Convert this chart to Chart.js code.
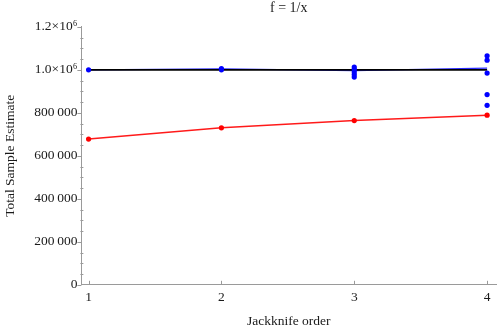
<!DOCTYPE html>
<html>
<head>
<meta charset="utf-8">
<script src="https://cdn.jsdelivr.net/npm/chart.js@4"></script>
<style>
  body { margin: 0; background: #fff; }
  #wrap { width: 500px; height: 328px; }
</style>
</head>
<body>
<div id="wrap"><canvas id="chart"></canvas></div>
<script>
const orders = [1, 2, 3, 4];
const redValues = [678000, 730000, 764000, 789000];
const blackValues = [1000000, 1000000, 1000000, 1000000];
const blueLineValues = [1000000, 1004000, 996000, 1008000];
const blueSamples = [
    [1000000],
    [1006000, 1000000],
    [1013000, 1003000, 990000, 978000, 966000],
    [1065000, 1045000, 985000, 885000, 835000]
];
const yTickValues = [0, 200000, 400000, 600000, 800000, 1000000, 1200000];
const yTickLabels = ['0', '200\u2009000', '400\u2009000', '600\u2009000', '800\u2009000', '1.0\u00d710\u2076', '1.2\u00d710\u2076'];
const xTickValues = [1, 2, 3, 4];

const axisGray = '#9a9a9a';
const textColor = '#1a1a1a';
const serif = "'Liberation Serif', 'DejaVu Serif', serif";

const bluePoints = [];
blueSamples.forEach((vals, i) => {
    vals.forEach(v => bluePoints.push({ x: orders[i], y: v }));
});

// ticks drawn by hand: x ticks point inward, y has minor ticks
const tickPlugin = {
    id: 'ticks',
    afterDraw(chart) {
        const ctx = chart.ctx;
        const xs = chart.scales.x;
        const ys = chart.scales.y;
        const area = chart.chartArea;
        ctx.save();
        ctx.strokeStyle = axisGray;
        ctx.lineWidth = 1;
        ctx.beginPath();
        xTickValues.forEach(v => {
            const px = Math.round(xs.getPixelForValue(v)) + 0.5;
            ctx.moveTo(px, area.bottom);
            ctx.lineTo(px, area.bottom - 4);
        });
        for (let v = 0; v <= 1200000; v += 50000) {
            const py = Math.round(ys.getPixelForValue(v)) + 0.5;
            if (v % 200000 === 0) {
                ctx.moveTo(area.left - 4, py);
                ctx.lineTo(area.left, py);
            } else {
                ctx.moveTo(area.left - 1, py);
                ctx.lineTo(area.left + 2, py);
            }
        }
        ctx.stroke();
        ctx.restore();
    }
};

const ctx = document.getElementById('chart').getContext('2d');
const chart = new Chart(ctx, {
    type: 'scatter',
    data: {
        datasets: [
            {
                label: 'black',
                type: 'line',
                data: orders.map((x, i) => ({ x: x, y: blackValues[i] })),
                borderColor: '#000',
                borderWidth: 1.8,
                pointRadius: 0,
                order: 1
            },
            {
                label: 'blue line',
                type: 'line',
                data: orders.map((x, i) => ({ x: x, y: blueLineValues[i] })),
                borderColor: '#2a2aff',
                borderWidth: 1.2,
                pointRadius: 0,
                order: 2
            },
            {
                label: 'blue points',
                data: bluePoints,
                backgroundColor: '#0000ff',
                borderColor: '#0000ff',
                pointRadius: 2.6,
                borderWidth: 0,
                clip: false,
                order: 0
            },
            {
                label: 'red',
                type: 'line',
                data: orders.map((x, i) => ({ x: x, y: redValues[i] })),
                borderColor: '#ff1a1a',
                backgroundColor: '#ff0000',
                borderWidth: 1.5,
                pointRadius: 2.6,
                pointBorderWidth: 0,
                clip: false,
                order: 0
            }
        ]
    },
    options: {
        responsive: true,
        maintainAspectRatio: false,
        animation: false,
        layout: { padding: { left: 2, right: 0, top: 0, bottom: 0 } },
        scales: {
            x: {
                type: 'linear',
                min: 0.946,
                max: 4.067,
                afterBuildTicks: axis => { axis.ticks = xTickValues.map(v => ({ value: v })); },
                grid: { display: false, drawTicks: false },
                border: { color: axisGray, width: 1 },
                ticks: {
                    color: textColor,
                    font: { family: serif, size: 13.5 },
                    padding: 5,
                    maxRotation: 0,
                    callback: v => String(v)
                },
                title: {
                    display: true,
                    text: 'Jackknife order',
                    color: textColor,
                    font: { family: serif, size: 13.5, lineHeight: 1 },
                    padding: { top: 3.5, bottom: 0 }
                }
            },
            y: {
                type: 'linear',
                min: 0,
                max: 1200000,
                afterBuildTicks: axis => { axis.ticks = yTickValues.map(v => ({ value: v })); },
                grid: { display: false, drawTicks: false },
                border: { color: axisGray, width: 1 },
                ticks: {
                    color: textColor,
                    font: { family: serif, size: 13.5 },
                    padding: 4,
                    callback: v => yTickLabels[yTickValues.indexOf(v)]
                },
                title: {
                    display: true,
                    text: 'Total Sample Estimate',
                    color: textColor,
                    font: { family: serif, size: 13.5 },
                    padding: { top: 0, bottom: 12 }
                }
            }
        },
        plugins: {
            legend: { display: false },
            tooltip: { enabled: false },
            title: {
                display: true,
                text: 'f = 1/x',
                fullSize: false,
                color: textColor,
                font: { family: serif, size: 14, weight: 'normal' },
                padding: { top: 0, bottom: 10 }
            }
        }
    },
    plugins: [tickPlugin]
});
</script>
</body>
</html>
